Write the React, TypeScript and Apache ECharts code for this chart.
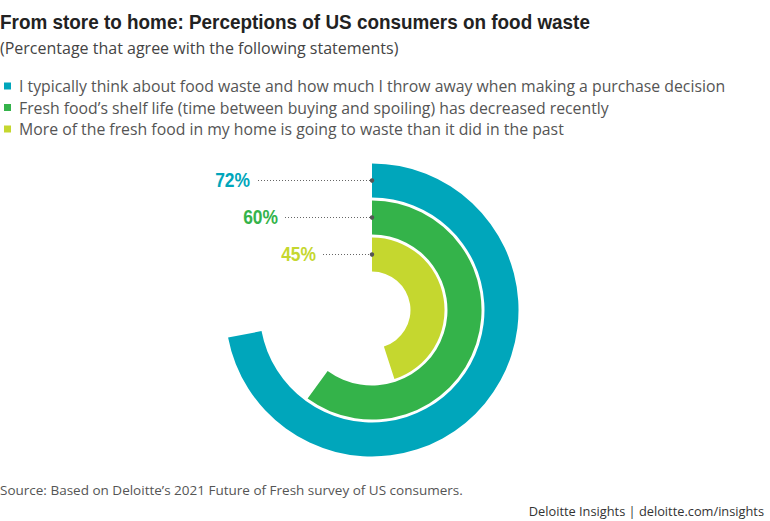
import React, { useEffect, useRef } from "react";
import * as echarts from "echarts";

const titleText = "From store to home: Perceptions of US consumers on food waste";
const subtitleText = "(Percentage that agree with the following statements)";
const statements = [
  "I typically think about food waste and how much I throw away when making a purchase decision",
  "Fresh food\u2019s shelf life (time between buying and spoiling) has decreased recently",
  "More of the fresh food in my home is going to waste than it did in the past",
];
const values = [72, 60, 45];
const colors = ["#00A6BB", "#34B34A", "#C5D72F"];
const labelRightX = [250, 278, 316];
const lineStartX = [258, 285, 323];
const sourceText = "Source: Based on Deloitte\u2019s 2021 Future of Fresh survey of US consumers.";
const brandText = "Deloitte Insights | deloitte.com/insights";

const CX = 372;
const CY = 310;
const R0 = 37;
const R1 = 148;

export default function App() {
  const ref = useRef<HTMLDivElement>(null);
  useEffect(() => {
    if (!ref.current) return;
    const chart = echarts.init(ref.current, null, { renderer: "svg" });
    const radiusCats = [...statements].reverse();
    const n = statements.length;
    const band = (R1 - R0) / n;
    const series = statements.map((s, i) => {
      const idx = n - 1 - i;
      const data = radiusCats.map((_, k) => (k === idx ? values[i] : null));
      return {
        type: "bar",
        name: s,
        coordinateSystem: "polar",
        data,
        barGap: "-100%",
        barCategoryGap: "8%",
        itemStyle: { color: colors[i] },
        silent: true,
      };
    });
    const graphics: any[] = [];
    graphics.push({
      type: "text",
      x: 0,
      y: 22,
      scaleX: 0.9,
      style: {
        text: titleText,
        fill: "#222",
        font: "bold 21px 'Liberation Sans', sans-serif",
        textVerticalAlign: "middle",
      },
    });
    graphics.push({
      type: "text",
      x: 0,
      y: 48,
      style: {
        text: subtitleText,
        fill: "#444",
        font: "16px 'Open Sans', sans-serif",
        textVerticalAlign: "middle",
      },
    });
    statements.forEach((s, i) => {
      const idx = n - 1 - i;
      const y = CY - (R0 + band * (idx + 0.5));
      graphics.push({
        type: "text",
        x: labelRightX[i],
        y: y - 1,
        scaleX: 0.83,
        style: {
          text: values[i] + "%",
          fill: colors[i],
          font: "bold 21px 'Liberation Sans', sans-serif",
          textAlign: "right",
          textVerticalAlign: "middle",
        },
      });
      graphics.push({
        type: "line",
        shape: { x1: lineStartX[i], y1: y, x2: CX, y2: y },
        style: { stroke: "#666", lineWidth: 1.2, lineDash: [1, 2] },
        z: 10,
      });
      graphics.push({
        type: "circle",
        shape: { cx: CX, cy: y, r: 2.2 },
        style: { fill: "#555" },
        z: 11,
      });
    });
    graphics.push({
      type: "text",
      x: 0,
      y: 490,
      style: {
        text: sourceText,
        fill: "#555",
        font: "13.5px 'Open Sans', sans-serif",
        textVerticalAlign: "middle",
      },
    });
    graphics.push({
      type: "text",
      x: 764,
      y: 511,
      style: {
        text: brandText,
        fill: "#333",
        font: "12.8px 'Open Sans', sans-serif",
        textAlign: "right",
        textVerticalAlign: "middle",
      },
    });
    chart.setOption({
      animation: false,
      legend: {
        data: statements,
        orient: "vertical",
        left: 4,
        top: 78,
        itemGap: 5.5,
        itemWidth: 7,
        itemHeight: 7,
        icon: "rect",
        selectedMode: false,
        textStyle: {
          fontFamily: "'Open Sans', sans-serif",
          fontSize: 15.8,
          lineHeight: 16,
          color: "#555",
          padding: [0, 0, 0, 3],
        },
        padding: 0,
      },
      polar: { center: [CX, CY], radius: [R0, R1] },
      angleAxis: {
        type: "value",
        min: 0,
        max: 100,
        startAngle: 90,
        clockwise: true,
        show: false,
      },
      radiusAxis: {
        type: "category",
        data: radiusCats,
        show: false,
      },
      series,
      graphic: graphics,
    });
    return () => chart.dispose();
  }, []);
  return (
    <div
      ref={ref}
      style={{ position: "absolute", left: 0, top: 0, width: 770, height: 521, background: "#fff" }}
    />
  );
}
